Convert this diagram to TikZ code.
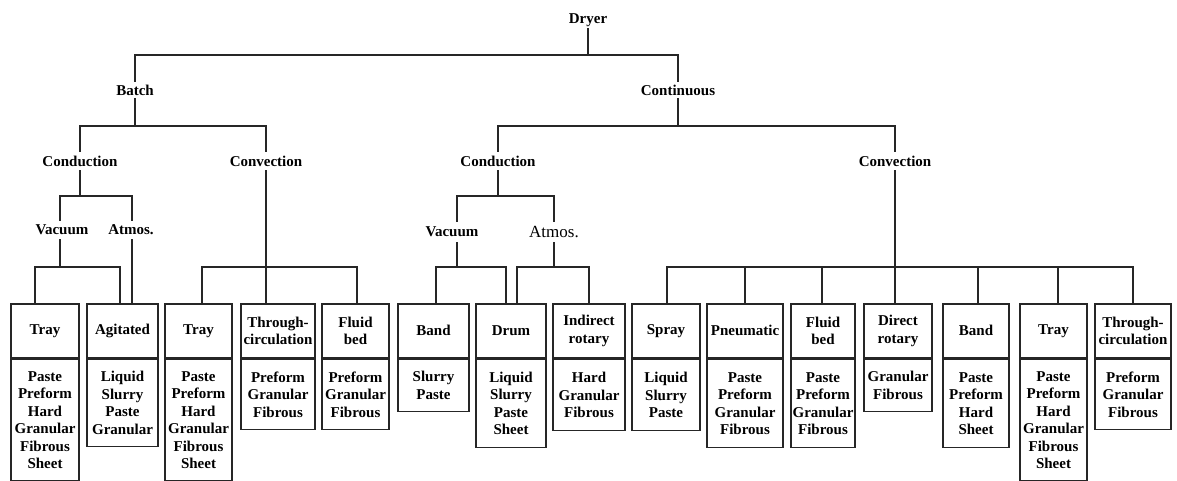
\documentclass[tikz,border=0pt]{standalone}
\usepackage{fontspec}
\setmainfont{Liberation Serif}
\begin{document}
\begin{tikzpicture}[x=1pt,y=-1pt,
  conn/.style={line width=1.7pt, draw=black!85},
  lab/.style={font=\fontsize{15}{17.5}\selectfont\bfseries, inner sep=0pt, minimum height=16pt},
  lab2/.style={lab, minimum height=18pt},
  hdr/.style={draw=black!85, line width=1.7pt, font=\fontsize{15}{17.5}\selectfont\bfseries, align=center, inner xsep=1pt, inner ysep=0pt, minimum height=54pt},
  bdy/.style={draw=black!85, line width=1.7pt, font=\fontsize{15}{17.5}\selectfont\bfseries, align=center, inner xsep=1pt, inner ysep=0pt}
]
\newcommand\dryerbox[6]{%
  \node[hdr, minimum width=#3pt, anchor=north] (h#1) at (#2,303) {#4};
  \node[bdy, minimum width=#3pt, minimum height=#6pt, anchor=north] (b#1) at (h#1.south) {#5};
}
\useasboundingbox (0,0) rectangle (1177,480);
% bus levels
\coordinate (L1) at (0,55);
\coordinate (L2) at (0,126);
\coordinate (L3) at (0,196);
\coordinate (L4) at (0,267);
% labels
\node[lab] (dryer) at (588,20) {Dryer};
\node[lab] (batch) at (135,90) {Batch};
\node[lab] (cont) at (678,90) {Continuous};
\node[lab2] (condB) at (80,161) {Conduction};
\node[lab2] (convB) at (266,161) {Convection};
\node[lab2] (vacB) at (62,230) {Vacuum};
\node[lab2] (atmB) at (131,230) {Atmos.};
\node[lab2] (condC) at (498,161) {Conduction};
\node[lab2] (convC) at (895,161) {Convection};
\node[lab, minimum height=20pt] (vacC) at (452,232) {Vacuum};
\node[inner sep=0pt, minimum height=20pt, font=\fontsize{17}{19}\selectfont] (atmC) at (554,232) {Atmos.};
% boxes
\dryerbox{1}{45}{68}{Tray}{Paste\\Preform\\Hard\\Granular\\Fibrous\\Sheet}{121}
\dryerbox{2}{122.5}{71}{Agitated}{Liquid\\Slurry\\Paste\\Granular}{87}
\dryerbox{3}{198.5}{67}{Tray}{Paste\\Preform\\Hard\\Granular\\Fibrous\\Sheet}{121}
\dryerbox{4}{278}{74}{Through-\\circulation}{Preform\\Granular\\Fibrous}{70}
\dryerbox{5}{355.5}{67}{Fluid\\bed}{Preform\\Granular\\Fibrous}{70}
\dryerbox{6}{433.5}{71}{Band}{Slurry\\Paste}{52}
\dryerbox{7}{511}{70}{Drum}{Liquid\\Slurry\\Paste\\Sheet}{88}
\dryerbox{8}{589}{72}{Indirect\\rotary}{Hard\\Granular\\Fibrous}{71}
\dryerbox{9}{666}{68}{Spray}{Liquid\\Slurry\\Paste}{71}
\dryerbox{10}{745}{76}{Pneumatic}{Paste\\Preform\\Granular\\Fibrous}{88}
\dryerbox{11}{823}{64}{Fluid\\bed}{Paste\\Preform\\Granular\\Fibrous}{88}
\dryerbox{12}{898}{68}{Direct\\rotary}{Granular\\Fibrous}{52}
\dryerbox{13}{976}{66}{Band}{Paste\\Preform\\Hard\\Sheet}{88}
\dryerbox{14}{1053.5}{67}{Tray}{Paste\\Preform\\Hard\\Granular\\Fibrous\\Sheet}{121}
\dryerbox{15}{1133}{76}{Through-\\circulation}{Preform\\Granular\\Fibrous}{70}
% connectors: level 1
\draw[conn] (batch.north) |- (dryer.south |- L1) -- (dryer.south);
\draw[conn] (cont.north) |- (dryer.south |- L1);
% level 2
\draw[conn] (condB.north) |- (batch.south |- L2) -- (batch.south);
\draw[conn] (convB.north) |- (batch.south |- L2);
\draw[conn] (condC.north) |- (cont.south |- L2) -- (cont.south);
\draw[conn] (convC.north) |- (cont.south |- L2);
% level 3
\draw[conn] ([xshift=-2pt]vacB.north) |- (condB.south |- L3) -- (condB.south);
\draw[conn] ([xshift=1pt]atmB.north) |- (condB.south |- L3);
\draw[conn] ([xshift=5pt]vacC.north) |- (condC.south |- L3) -- (condC.south);
\draw[conn] (atmC.north) |- (condC.south |- L3);
% level 4 batch
\draw[conn] ([xshift=-10pt]h1.north) |- ([xshift=-2pt]vacB.south |- L4) -- ([xshift=-2pt]vacB.south);
\draw[conn] ([xshift=-2.5pt]h2.north) |- ([xshift=-2pt]vacB.south |- L4);
\draw[conn] ([xshift=1pt]atmB.south) -- ([xshift=1pt]atmB.south |- h2.north);
\draw[conn] (convB.south) -- (convB.south |- h4.north);
\draw[conn] ([xshift=3.5pt]h3.north) |- (convB.south |- L4);
\draw[conn] ([xshift=1.5pt]h5.north) |- (convB.south |- L4);
% level 4 continuous
\draw[conn] ([xshift=2.5pt]h6.north) |- ([xshift=5pt]vacC.south |- L4) -- ([xshift=5pt]vacC.south);
\draw[conn] ([xshift=-5pt]h7.north) |- ([xshift=5pt]vacC.south |- L4);
\draw[conn] ([xshift=6pt]h7.north) |- (atmC.south |- L4) -- (atmC.south);
\draw[conn] (h8.north) |- (atmC.south |- L4);
\draw[conn] (convC.south) -- (convC.south |- h12.north);
\draw[conn] ([xshift=1pt]h9.north) |- (convC.south |- L4);
\draw[conn] (h10.north) |- (convC.south |- L4);
\draw[conn] ([xshift=-1pt]h11.north) |- (convC.south |- L4);
\draw[conn] ([xshift=2pt]h13.north) |- (convC.south |- L4);
\draw[conn] ([xshift=4.5pt]h14.north) |- (convC.south |- L4);
\draw[conn] (h15.north) |- (convC.south |- L4);
\end{tikzpicture}
\end{document}
